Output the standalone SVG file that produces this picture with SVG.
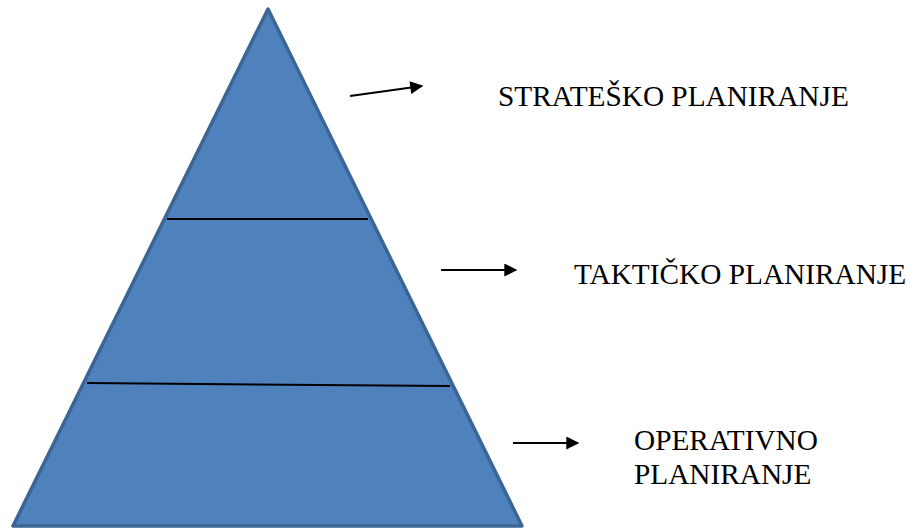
<svg xmlns="http://www.w3.org/2000/svg" width="920" height="529" viewBox="0 0 920 529">
<style>
.lbl{font-family:"Liberation Serif","Times New Roman",serif;font-size:29.3px;fill:#000}
.div{stroke:#000;stroke-width:2;fill:none}
.arr{stroke:#000;stroke-width:2;fill:none;marker-end:url(#ah)}
</style>
<defs>
<marker id="ah" viewBox="0 0 10 10" refX="9" refY="5" markerWidth="8" markerHeight="6.5" markerUnits="strokeWidth" orient="auto">
<path d="M0,0 L10,5 L0,10 z" fill="#000"/>
</marker>
</defs>
<rect width="920" height="529" fill="#fff"/>
<g id="pyramid">
<polygon points="268,9 13,526 522,526" fill="#4f81bd" stroke="#3a6595" stroke-width="3.5" stroke-linejoin="round"/>
</g>
<g id="dividers">
<line class="div" x1="167" y1="219" x2="368" y2="219"/>
<line class="div" x1="87" y1="383" x2="450" y2="386"/>
</g>
<g id="connectors">
<line class="arr" x1="350" y1="96" x2="422" y2="86"/>
<line class="arr" x1="441" y1="270" x2="516" y2="270"/>
<line class="arr" x1="513" y1="443" x2="578" y2="443"/>
</g>
<g id="strateško"><text class="lbl" x="498" y="106">STRATEŠKO PLANIRANJE</text></g>
<g id="taktičko"><text class="lbl" x="574" y="284">TAKTIČKO PLANIRANJE</text></g>
<g id="operativno"><text class="lbl" x="634" y="450">OPERATIVNO</text><text class="lbl" x="634" y="484">PLANIRANJE</text></g>
</svg>
